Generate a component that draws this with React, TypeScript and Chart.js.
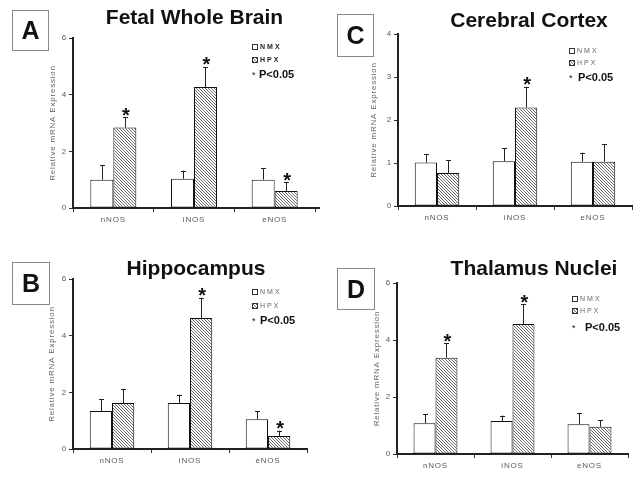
import React, { useEffect, useRef } from 'react';
import { Chart, registerables } from 'chart.js';
Chart.register(...registerables);

const categories = ['nNOS', 'iNOS', 'eNOS'];
const seriesNames = ['NMX', 'HPX'];
const yAxisTitle = 'Relative mRNA Expression';
const sigLabel = 'P<0.05';

// A: Fetal Whole Brain
const fetalNmx = [1.0, 1.03, 1.0];
const fetalNmxErr = [0.52, 0.29, 0.41];
const fetalHpx = [2.84, 4.27, 0.6];
const fetalHpxErr = [0.36, 0.71, 0.31];
const fetalStars = [true, true, true];

// C: Cerebral Cortex
const cortexNmx = [1.01, 1.04, 1.03];
const cortexNmxErr = [0.19, 0.3, 0.21];
const cortexHpx = [0.77, 2.29, 1.03];
const cortexHpxErr = [0.3, 0.48, 0.41];
const cortexStars = [false, true, false];

// B: Hippocampus
const hippoNmx = [1.34, 1.62, 1.05];
const hippoNmxErr = [0.42, 0.3, 0.29];
const hippoHpx = [1.62, 4.62, 0.46];
const hippoHpxErr = [0.5, 0.72, 0.19];
const hippoStars = [false, true, true];

// D: Thalamus Nuclei
const thalNmx = [1.08, 1.16, 1.04];
const thalNmxErr = [0.31, 0.19, 0.4];
const thalHpx = [3.38, 4.56, 0.96];
const thalHpxErr = [0.51, 0.69, 0.22];
const thalStars = [true, true, false];

const FONT = '"Liberation Sans", Arial, Helvetica, sans-serif';

type PanelCfg = {
  letter: string;
  title: string;
  nmx: number[];
  nmxErr: number[];
  hpx: number[];
  hpxErr: number[];
  stars: boolean[];
  yMax: number;
  yStep: number;
  canvas: { x: number; y: number; w: number; h: number };
  area: { l: number; r: number; t: number; b: number };
  axisExtend: number;
  yTitlePad: number;
  titlePos: { x: number; y: number };
  letterBox: { x: number; y: number; w: number; h: number };
  legend: { x: number; rows: number[]; px: number };
  boldLegend: boolean;
};

const panels: PanelCfg[] = [
  {
    letter: 'A', title: 'Fetal Whole Brain',
    nmx: fetalNmx, nmxErr: fetalNmxErr, hpx: fetalHpx, hpxErr: fetalHpxErr, stars: fetalStars,
    yMax: 6, yStep: 2,
    canvas: { x: 0, y: 0, w: 321, h: 238 },
    area: { l: 73, r: 315, t: 38, b: 208 },
    axisExtend: 5,
    yTitlePad: 5,
    titlePos: { x: 194.5, y: 24 },
    letterBox: { x: 12, y: 10, w: 37, h: 41 },
    legend: { x: 252, rows: [47, 60, 74], px: 259 },
    boldLegend: true,
  },
  {
    letter: 'C', title: 'Cerebral Cortex',
    nmx: cortexNmx, nmxErr: cortexNmxErr, hpx: cortexHpx, hpxErr: cortexHpxErr, stars: cortexStars,
    yMax: 4, yStep: 1,
    canvas: { x: 321, y: 0, w: 322, h: 238 },
    area: { l: 398, r: 632, t: 34, b: 206 },
    axisExtend: 0,
    yTitlePad: 1,
    titlePos: { x: 529, y: 27 },
    letterBox: { x: 337, y: 14, w: 37, h: 43 },
    legend: { x: 569, rows: [51, 63, 77], px: 578 },
    boldLegend: false,
  },
  {
    letter: 'B', title: 'Hippocampus',
    nmx: hippoNmx, nmxErr: hippoNmxErr, hpx: hippoHpx, hpxErr: hippoHpxErr, stars: hippoStars,
    yMax: 6, yStep: 2,
    canvas: { x: 0, y: 238, w: 321, h: 239 },
    area: { l: 73, r: 307, t: 279, b: 449 },
    axisExtend: 0,
    yTitlePad: 4,
    titlePos: { x: 196, y: 275 },
    letterBox: { x: 12, y: 262, w: 38, h: 43 },
    legend: { x: 252, rows: [292, 306, 320], px: 260 },
    boldLegend: false,
  },
  {
    letter: 'D', title: 'Thalamus Nuclei',
    nmx: thalNmx, nmxErr: thalNmxErr, hpx: thalHpx, hpxErr: thalHpxErr, stars: thalStars,
    yMax: 6, yStep: 2,
    canvas: { x: 321, y: 238, w: 322, h: 239 },
    area: { l: 397, r: 628, t: 283, b: 454 },
    axisExtend: 1,
    yTitlePad: 5,
    titlePos: { x: 534, y: 275 },
    letterBox: { x: 337, y: 268, w: 38, h: 42 },
    legend: { x: 572, rows: [299, 311, 327], px: 585 },
    boldLegend: false,
  },
];

const Y_AXIS_W = 30;
const X_AXIS_H = 20;

function makeHatch(): CanvasPattern | string {
  const c = document.createElement('canvas');
  c.width = 3;
  c.height = 3;
  const g = c.getContext('2d');
  if (!g) return '#aaa';
  g.fillStyle = '#ffffff';
  g.fillRect(0, 0, 3, 3);
  g.fillStyle = '#6a6a6a';
  g.fillRect(0, 0, 1, 1);
  g.fillRect(1, 1, 1, 1);
  g.fillRect(2, 2, 1, 1);
  const p = g.createPattern(c, 'repeat');
  return p || '#aaa';
}

function PanelChart({ cfg }: { cfg: PanelCfg }) {
  const ref = useRef<HTMLCanvasElement | null>(null);
  useEffect(() => {
    const canvas = ref.current;
    if (!canvas) return;
    const { canvas: cv, area } = cfg;
    const pad = {
      left: area.l - cv.x - Y_AXIS_W,
      right: cv.x + cv.w - area.r,
      top: area.t - cv.y,
      bottom: cv.y + cv.h - area.b - X_AXIS_H,
    };
    const errs = [cfg.nmxErr, cfg.hpxErr];
    const errorPlugin = {
      id: 'errorBars',
      beforeDraw(chart: any) {
        chart.ctx.letterSpacing = '0.8px';
      },
      afterDatasetsDraw(chart: any) {
        const ctx = chart.ctx;
        const yScale = chart.scales.y;
        const ca = chart.chartArea;
        ctx.save();
        ctx.letterSpacing = '0px';
        if (cfg.axisExtend > 0) {
          ctx.strokeStyle = '#222';
          ctx.lineWidth = 2;
          ctx.beginPath();
          ctx.moveTo(ca.right - 1, ca.bottom);
          ctx.lineTo(ca.right + cfg.axisExtend, ca.bottom);
          ctx.stroke();
        }
        ctx.strokeStyle = '#222';
        ctx.lineWidth = 1;
        chart.data.datasets.forEach((ds: any, i: number) => {
          const meta = chart.getDatasetMeta(i);
          meta.data.forEach((el: any, j: number) => {
            const v = ds.data[j];
            const e = errs[i][j];
            const x = Math.round(el.x) + 0.5;
            const yTop = yScale.getPixelForValue(v);
            const yErr = yScale.getPixelForValue(v + e);
            ctx.beginPath();
            ctx.moveTo(x, yTop);
            ctx.lineTo(x, yErr);
            ctx.moveTo(x - 2.5, Math.round(yErr) + 0.5);
            ctx.lineTo(x + 2.5, Math.round(yErr) + 0.5);
            ctx.stroke();
            if (i === 1 && cfg.stars[j]) {
              ctx.fillStyle = '#111';
              ctx.font = `bold 20px ${FONT}`;
              ctx.textAlign = 'center';
              ctx.textBaseline = 'alphabetic';
              ctx.fillText('*', el.x + 1, yErr - 7 + 11.4);
            }
          });
        });
        ctx.restore();
      },
      afterDraw(chart: any) {
        chart.ctx.letterSpacing = '0px';
      },
    };
    const hatch = makeHatch();
    const chart = new Chart(canvas, {
      type: 'bar',
      data: {
        labels: categories,
        datasets: [
          {
            label: seriesNames[0], data: cfg.nmx, backgroundColor: '#ffffff', borderColor: '#111',
            borderWidth: 1, borderSkipped: false, categoryPercentage: 0.57, barPercentage: 1,
          },
          {
            label: seriesNames[1], data: cfg.hpx, backgroundColor: hatch as any, borderColor: '#111',
            borderWidth: 1, borderSkipped: false, categoryPercentage: 0.57, barPercentage: 1,
          },
        ],
      },
      options: {
        responsive: false,
        animation: false,
        devicePixelRatio: 1,
        layout: { padding: pad },
        font: { family: FONT },
        plugins: { legend: { display: false }, title: { display: false }, tooltip: { enabled: false } },
        scales: {
          x: {
            type: 'category',
            offset: true,
            grid: { display: true, drawOnChartArea: false, drawTicks: true, tickLength: 4, color: '#333', offset: true },
            border: { display: true, color: '#222', width: 2 },
            ticks: { color: '#5a5a5a', font: { size: 8, family: FONT }, padding: 3, maxRotation: 0, autoSkip: false },
            afterFit: (s: any) => { s.height = X_AXIS_H; },
          },
          y: {
            min: 0,
            max: cfg.yMax,
            ticks: { stepSize: cfg.yStep, color: '#5a5a5a', font: { size: 8, family: FONT }, padding: 2 },
            grid: { display: true, drawOnChartArea: false, drawTicks: true, tickLength: 4, color: '#333' },
            border: { display: true, color: '#222', width: 2 },
            title: {
              display: true, text: yAxisTitle, color: '#666', font: { size: 8, family: FONT },
              padding: { top: cfg.yTitlePad, bottom: 0 },
            },
            afterFit: (s: any) => { s.width = Y_AXIS_W; },
          },
        },
      } as any,
      plugins: [errorPlugin as any],
    });
    return () => chart.destroy();
  }, [cfg]);
  return (
    <canvas
      ref={ref}
      width={cfg.canvas.w}
      height={cfg.canvas.h}
      style={{ position: 'absolute', left: cfg.canvas.x, top: cfg.canvas.y, width: cfg.canvas.w, height: cfg.canvas.h }}
    />
  );
}

function PanelText({ cfg }: { cfg: PanelCfg }) {
  const tSize = 21;
  const lb = cfg.letterBox;
  const lg = cfg.legend;
  const legendText = (txt: string) => (
    <span
      style={{
        fontSize: 7, letterSpacing: 2, color: cfg.boldLegend ? '#222' : '#666',
        fontWeight: cfg.boldLegend ? 'bold' : 'normal', marginLeft: 2, lineHeight: '8px',
      }}
    >
      {txt}
    </span>
  );
  return (
    <>
      <div
        style={{
          position: 'absolute', left: cfg.titlePos.x, top: cfg.titlePos.y - 0.8465 * tSize,
          transform: 'translateX(-50%)', font: `bold ${tSize}px ${FONT}`, lineHeight: `${tSize}px`,
          whiteSpace: 'nowrap', color: '#111',
        }}
      >
        {cfg.title}
      </div>
      <div
        style={{
          position: 'absolute', left: lb.x, top: lb.y, width: lb.w - 2, height: lb.h - 2,
          border: '1px solid #8a8a8a', display: 'flex', alignItems: 'center', justifyContent: 'center',
          font: `bold 25px ${FONT}`, color: '#111',
        }}
      >
        {cfg.letter}
      </div>
      <div style={{ position: 'absolute', left: lg.x, top: lg.rows[0] - 4, height: 8, display: 'flex', alignItems: 'center', fontFamily: FONT }}>
        <span style={{ display: 'inline-block', width: 4, height: 4, border: '1px solid #333', background: '#fff' }} />
        {legendText(seriesNames[0])}
      </div>
      <div style={{ position: 'absolute', left: lg.x, top: lg.rows[1] - 4, height: 8, display: 'flex', alignItems: 'center', fontFamily: FONT }}>
        <span
          style={{
            display: 'inline-block', width: 4, height: 4, border: '1px solid #333',
            background: 'repeating-linear-gradient(45deg, #666 0px, #666 1px, #fff 1px, #fff 2.2px)',
          }}
        />
        {legendText(seriesNames[1])}
      </div>
      <div
        style={{
          position: 'absolute', left: lg.x, top: lg.rows[2] - 7, height: 14, lineHeight: '14px',
          fontFamily: FONT, whiteSpace: 'nowrap', color: '#111',
        }}
      >
        <span style={{ fontSize: 9, position: 'relative', top: -1 }}>*</span>
      </div>
      <div
        style={{
          position: 'absolute', left: lg.px, top: lg.rows[2] - 7, height: 14, lineHeight: '14px',
          fontFamily: FONT, whiteSpace: 'nowrap', color: '#111', fontWeight: 'bold', fontSize: 11,
        }}
      >
        {sigLabel}
      </div>
    </>
  );
}

export default function App() {
  return (
    <div style={{ position: 'absolute', left: 0, top: 0, width: 643, height: 477, background: '#fff', overflow: 'hidden' }}>
      {panels.map((p) => (
        <PanelChart key={'c' + p.letter} cfg={p} />
      ))}
      {panels.map((p) => (
        <PanelText key={'t' + p.letter} cfg={p} />
      ))}
    </div>
  );
}
